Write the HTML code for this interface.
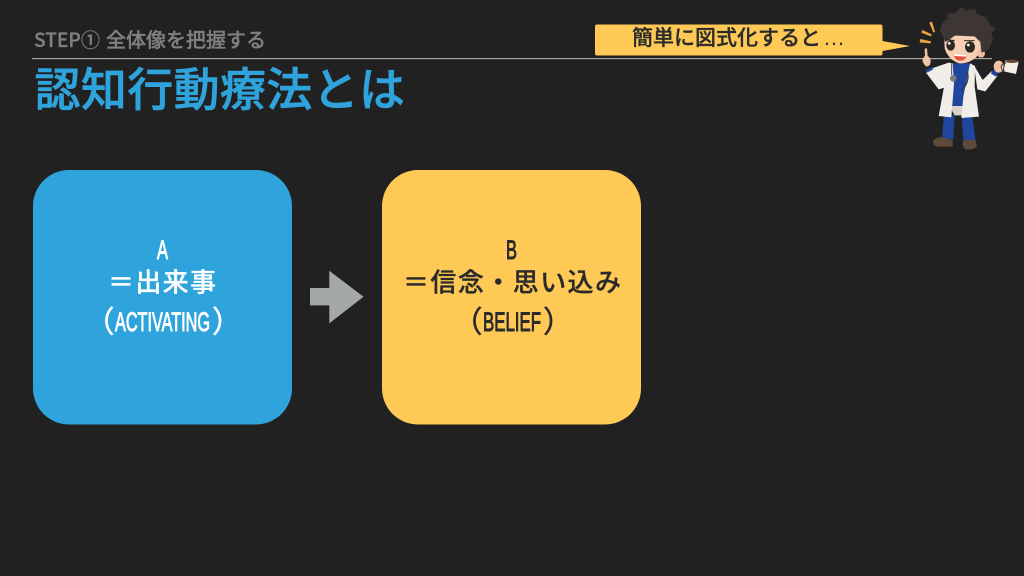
<!DOCTYPE html>
<html lang="ja">
<head>
<meta charset="utf-8">
<title>認知行動療法とは</title>
<style>
html,body{margin:0;padding:0;background:#212121;width:1024px;height:576px;overflow:hidden}
svg{display:block}
text{font-family:"Liberation Sans","Noto Sans CJK JP",sans-serif}
.c{font-family:"Noto Sans CJK JP","Liberation Sans",sans-serif}
</style>
</head>
<body>
<svg width="1024" height="576" viewBox="0 0 1024 576" xmlns="http://www.w3.org/2000/svg">
<rect width="1024" height="576" fill="#212121"/>

<!-- header -->
<text x="34" y="47" font-size="19.5" fill="#808080" stroke="#808080" stroke-width=".3" textLength="66" lengthAdjust="spacingAndGlyphs" class="c" font-weight="500">STEP①</text>
<text x="106" y="47" font-size="20" fill="#808080" stroke="#808080" stroke-width=".3" textLength="160" class="c" font-weight="500">全体像を把握する</text>
<rect x="32" y="58" width="960" height="1.2" fill="#a8a8a8"/>
<text x="34.5" y="106" font-size="46" fill="#2fa4dc" stroke="#2fa4dc" stroke-width=".6" textLength="370.5" class="c" font-weight="500">認知行動療法とは</text>

<!-- callout -->
<path d="M597 24.5H880.5a2 2 0 0 1 2 2V41L910 46L882.5 51V53.5a2 2 0 0 1-2 2H597a2 2 0 0 1-2-2V26.5a2 2 0 0 1 2-2z" fill="#fec955"/>
<text x="632" y="45" font-size="21" fill="#2a2a2a" stroke="#2a2a2a" stroke-width=".3" textLength="189" class="c" font-weight="500">簡単に図式化すると</text>
<text x="824" y="45" font-size="21" fill="#2a2a2a" textLength="20">...</text>

<!-- box A -->
<rect x="33" y="170" width="259" height="254.5" rx="36" fill="#2fa4dc"/>
<text x="157" y="259" font-size="27" fill="#fff" stroke="#fff" stroke-width="1" textLength="11" lengthAdjust="spacingAndGlyphs">A</text>
<text x="108" y="291.5" font-size="26" fill="#fff" stroke="#fff" stroke-width=".3" textLength="108" class="c" font-weight="500">＝出来事</text>
<text x="84.5" y="332.5" font-size="30" fill="#fff" stroke="#fff" stroke-width=".5" class="c">（</text>
<text x="115" y="331" font-size="27" fill="#fff" stroke="#fff" stroke-width="1" textLength="95" lengthAdjust="spacingAndGlyphs">ACTIVATING</text>
<text x="212" y="332.5" font-size="30" fill="#fff" stroke="#fff" stroke-width=".5" class="c">）</text>

<!-- arrow -->
<polygon points="310,288 329.3,288 329.3,270.7 363.5,296.8 329.3,323.4 329.3,305.4 310,305.4" fill="#a4a8a6"/>

<!-- box B -->
<rect x="382" y="170" width="259" height="254.5" rx="36" fill="#fec955"/>
<text x="506" y="259" font-size="27" fill="#2a2a2a" stroke="#2a2a2a" stroke-width="1" textLength="11" lengthAdjust="spacingAndGlyphs">B</text>
<text x="403" y="291.5" font-size="26" fill="#2a2a2a" stroke="#2a2a2a" stroke-width=".3" textLength="218" class="c" font-weight="500">＝信念・思い込み</text>
<text x="452.5" y="332.5" font-size="30" fill="#2a2a2a" stroke="#2a2a2a" stroke-width=".5" class="c">（</text>
<text x="483" y="331" font-size="27" fill="#2a2a2a" stroke="#2a2a2a" stroke-width="1" textLength="58" lengthAdjust="spacingAndGlyphs">BELIEF</text>
<text x="543" y="332.5" font-size="30" fill="#2a2a2a" stroke="#2a2a2a" stroke-width=".5" class="c">）</text>

<!-- doctor character (coordinates in 3x space) -->
<g transform="translate(880 0) scale(.33333)">
  <!-- spark marks -->
  <g fill="#f3a63c">
    <polygon points="148,68 156,65 165,96 160,98"/>
    <polygon points="127,90 131,92 155,103 153,109 124,98"/>
    <polygon points="121,117 153,124 152,130 119,127"/>
  </g>
  <!-- legs -->
  <path d="M192 345L224 345L220 418L186 414Z" fill="#1f459c"/>
  <path d="M245 345L276 345L287 424L250 424Z" fill="#1f459c"/>
  <!-- shoes -->
  <path d="M160 422Q170 410 188 412L218 420L218 440L170 440Q156 436 160 422Z" fill="#5c4a3c"/>
  <path d="M248 424Q268 412 288 424L291 440Q280 450 258 448Q246 444 248 424Z" fill="#5c4a3c"/>
  <!-- scrubs -->
  <path d="M212 190L272 190L262 320L206 320Z" fill="#1f459c"/>
  <path d="M208 318H254L248 346H224Z" fill="#d9d3cc"/>
  <!-- coat panels -->
  <path d="M206 188L218 190L222 250L214 352L176 348L194 250Z" fill="#f1eeea"/>
  <path d="M270 190L285 198L284 260L297 350L244 354L250 290Z" fill="#f1eeea"/>
  <!-- arms -->
  <path d="M138 218L156 205L206 188L196 262L176 268Z" fill="#f1eeea"/>
  <path d="M282 196L308 240L334 214L352 228L316 274L292 268Z" fill="#f1eeea"/>
  <path d="M136 210L156 201L160 208L141 218Z" fill="#1f459c"/>
  <path d="M332 220L342 208L356 218L348 230Z" fill="#1f459c"/>
  <!-- stethoscope -->
  <path d="M215 190V225" stroke="#4a4c50" stroke-width="3" fill="none"/>
  <circle cx="220" cy="235" r="10" fill="#77797a"/>
  <path d="M262 215Q270 245 245 272" fill="none" stroke="#33363c" stroke-width="4"/>
  <!-- hands -->
  <path d="M134 146L141 145L143 168Q156 176 150 194Q140 206 132 192Q122 178 135 168Z" fill="#f1c4a6"/>
  <ellipse cx="356" cy="200" rx="15" ry="18" fill="#f1c4a6"/>
  <!-- mug -->
  <path d="M377 180L416 185L408 222L371 214Z" fill="#f3efe8"/>
  <ellipse cx="396" cy="184" rx="19" ry="5" fill="#6d4633"/>
  <path d="M378 190Q362 190 364 204Q366 214 374 212" fill="none" stroke="#4a4542" stroke-width="3"/>
  <!-- face -->
  <path d="M192 95L305 95Q312 130 295 165Q270 192 238 190Q205 180 194 145Z" fill="#f6cfb4"/>
  <ellipse cx="303" cy="160" rx="12" ry="13" fill="#eebd9e"/>
  <!-- hair -->
  <path d="M182 92Q186 64 205 58L202 44L226 40L246 22L256 34L284 28L290 42L318 54L328 74L344 86L332 100L338 118L324 148L306 156L302 125L285 108L225 105L197 124L190 110Z" fill="#3d3633" stroke="#3d3633" stroke-width="3" stroke-linejoin="round"/>
  <!-- eyes -->
  <ellipse cx="212" cy="136" rx="13" ry="16" fill="#2e2825"/>
  <ellipse cx="270" cy="141" rx="15" ry="17" fill="#2e2825"/>
  <circle cx="208" cy="130" r="4" fill="#fff"/>
  <circle cx="265" cy="135" r="4" fill="#fff"/>
  <path d="M198 118L224 122" stroke="#2e2825" stroke-width="3"/>
  <path d="M252 122L284 122" stroke="#2e2825" stroke-width="3"/>
  <!-- mouth -->
  <path d="M220 162L261 165Q256 184 236 182Q222 176 220 162Z" fill="#e8503c"/>
  <path d="M221 162L260 165L258 170L223 168Z" fill="#fff"/>
</g>
</svg>
</body>
</html>
